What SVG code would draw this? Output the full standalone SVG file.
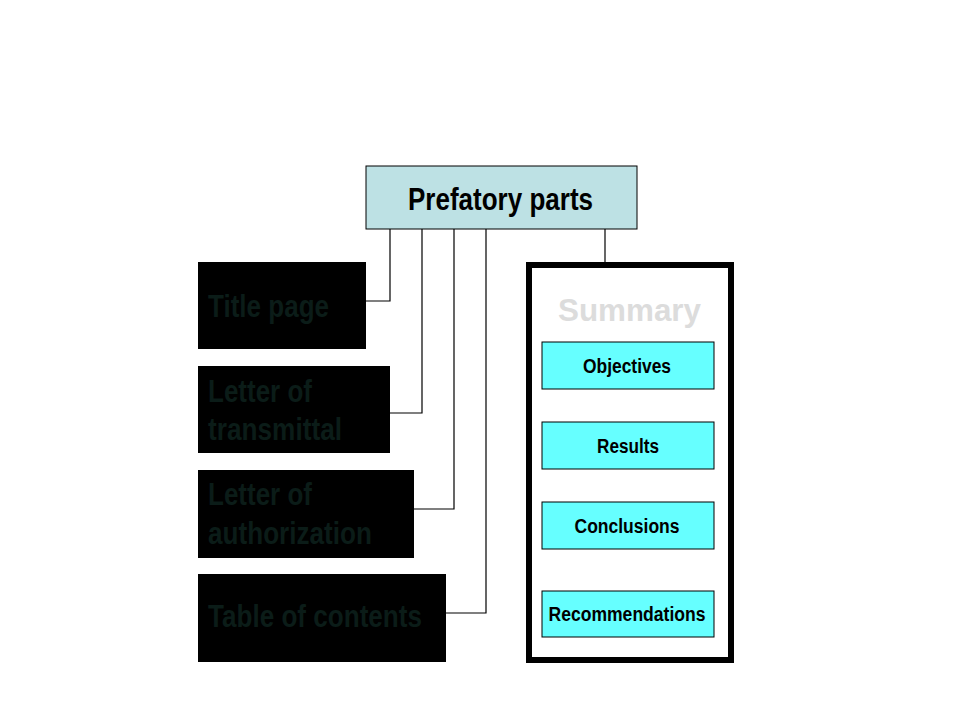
<svg xmlns="http://www.w3.org/2000/svg" width="960" height="720" viewBox="0 0 960 720">
<style>
.t{font-family:"Liberation Sans",Arial,sans-serif;font-weight:bold}
.dark{fill:#000}
.dt{fill:#0b1c18;font-size:32px}
.sub{fill:#66ffff;stroke:#000;stroke-width:1}
.st{font-size:20px;fill:#000;text-anchor:middle}
.c{fill:none;stroke:#000;stroke-width:1.2}
</style>
<rect width="960" height="720" fill="#fff"/>
<g id="connectors">
<polyline class="c" points="366,301 390,301 390,229"/>
<polyline class="c" points="390,413 422,413 422,229"/>
<polyline class="c" points="414,509 454,509 454,229"/>
<polyline class="c" points="446,613 486,613 486,229"/>
<line class="c" x1="605" y1="229" x2="605" y2="263"/>
</g>
<g id="prefatory">
<rect x="366" y="166" width="271" height="63" fill="#bde1e4" stroke="#000" stroke-width="1"/>
<text class="t" x="408" y="210" font-size="32" fill="#000" textLength="185" lengthAdjust="spacingAndGlyphs">Prefatory parts</text>
</g>
<g id="title-page">
<rect class="dark" x="198" y="262" width="168" height="87"/>
<text class="t dt" x="208" y="317" textLength="121" lengthAdjust="spacingAndGlyphs">Title page</text>
</g>
<g id="letter-transmittal">
<rect class="dark" x="198" y="366" width="192" height="87"/>
<text class="t dt" x="208" y="402" textLength="104" lengthAdjust="spacingAndGlyphs">Letter of</text>
<text class="t dt" x="208" y="440" textLength="134" lengthAdjust="spacingAndGlyphs">transmittal</text>
</g>
<g id="letter-authorization">
<rect class="dark" x="198" y="470" width="216" height="88"/>
<text class="t dt" x="208" y="505" textLength="104" lengthAdjust="spacingAndGlyphs">Letter of</text>
<text class="t dt" x="208" y="544" textLength="164" lengthAdjust="spacingAndGlyphs">authorization</text>
</g>
<g id="table-contents">
<rect class="dark" x="198" y="574" width="248" height="88"/>
<text class="t dt" x="208" y="627" textLength="214" lengthAdjust="spacingAndGlyphs">Table of contents</text>
</g>
<g id="summary">
<rect x="529" y="265" width="202" height="395" fill="#fff" stroke="#000" stroke-width="6"/>
<text class="t" x="558" y="321" font-size="32" fill="#dcdcdc" textLength="143" lengthAdjust="spacingAndGlyphs">Summary</text>
</g>
<g id="objectives">
<rect class="sub" x="542" y="342" width="172" height="47"/>
<text class="t st" x="627" y="373" textLength="88" lengthAdjust="spacingAndGlyphs">Objectives</text>
</g>
<g id="results">
<rect class="sub" x="542" y="422" width="172" height="47"/>
<text class="t st" x="628" y="453" textLength="62" lengthAdjust="spacingAndGlyphs">Results</text>
</g>
<g id="conclusions">
<rect class="sub" x="542" y="502" width="172" height="47"/>
<text class="t st" x="627" y="533" textLength="105" lengthAdjust="spacingAndGlyphs">Conclusions</text>
</g>
<g id="recommendations">
<rect class="sub" x="542" y="591" width="172" height="46"/>
<text class="t st" x="627" y="621" textLength="157" lengthAdjust="spacingAndGlyphs">Recommendations</text>
</g>
</svg>
